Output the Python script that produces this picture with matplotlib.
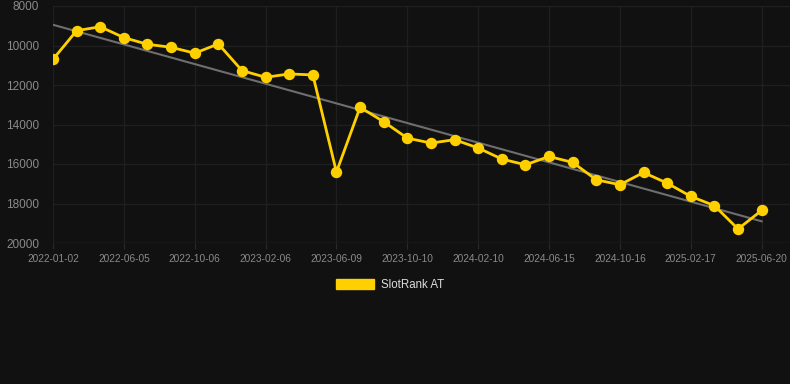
import matplotlib

matplotlib.use("Agg")
import matplotlib.pyplot as plt  # noqa: E402
import numpy as np  # noqa: E402
from matplotlib.patches import Patch  # noqa: E402

plt.rcParams["font.family"] = ["Liberation Sans", "DejaVu Sans"]

BG = "#111111"
GRID = "#1f1f1f"
TICK = "#8a8a8a"
YELLOW = "#ffd000"
TREND = "#6e6e6e"

# category dates (only every third one is shown as a tick label)
dates = [
    "2022-01-02", "2022-02-22", "2022-04-14", "2022-06-05", "2022-07-16", "2022-08-26",
    "2022-10-06", "2022-11-18", "2022-12-28", "2023-02-06", "2023-03-20", "2023-04-30",
    "2023-06-09", "2023-07-20", "2023-08-30", "2023-10-10", "2023-11-20", "2023-12-31",
    "2024-02-10", "2024-03-22", "2024-05-04", "2024-06-15", "2024-07-26", "2024-09-05",
    "2024-10-16", "2024-11-27", "2025-01-07", "2025-02-17", "2025-03-30", "2025-05-10",
    "2025-06-20",
]
ranks = [
    10700, 9250, 9050, 9600, 9940, 10090, 10390, 9920, 11270, 11610, 11440, 11490,
    16410, 13130, 13860, 14690, 14940, 14770, 15190, 15750, 16040, 15620, 15920, 16800,
    17050, 16430, 16970, 17640, 18110, 19290, 18350,
]
y_ticks = [8000, 10000, 12000, 14000, 16000, 18000, 20000]

W, H = 790, 384
fig = plt.figure(figsize=(W / 100, H / 100), dpi=100)
fig.patch.set_facecolor(BG)
ax = fig.add_axes([53 / W, 1 - 243 / H, (W - 53) / W, (243 - 6) / H])
ax.set_facecolor(BG)

x = np.arange(len(ranks))
slope, intercept = np.polyfit(x, ranks, 1)
ax.plot([x[0], x[-1]], [intercept, intercept + slope * x[-1]], color=TREND, lw=1.5, zorder=2)
ax.plot(x, ranks, color=YELLOW, lw=2.0, marker="o", markersize=7.2, zorder=3)

ax.set_xlim(0, 31.2)
ax.set_ylim(20000, 8000)
ax.set_yticks(y_ticks)
ax.set_yticklabels([str(v) for v in y_ticks])
ax.set_xticks(x[::3])
ax.set_xticklabels(dates[::3])
ax.grid(True, color=GRID, lw=1)
ax.set_axisbelow(True)
for s in ax.spines.values():
    s.set_visible(False)
ax.axhline(20000, color="#2a2a2a", lw=1, zorder=1)
ax.tick_params(axis="x", colors=TICK, labelsize=7.3, length=4, color="#2a2a2a", pad=4)
ax.tick_params(axis="y", colors=TICK, labelsize=8.5, length=0, pad=10)

leg = fig.legend(
    handles=[Patch(facecolor=YELLOW, edgecolor=YELLOW)],
    labels=["SlotRank AT"],
    loc="center",
    bbox_to_anchor=(0.494, 1 - 284.5 / H),
    frameon=False,
    handlelength=3.3,
    handleheight=0.95,
    handletextpad=0.6,
    fontsize=8.3,
)
for t in leg.get_texts():
    t.set_color("#dddddd")

fig.savefig("out.png", dpi=100, facecolor=BG)
